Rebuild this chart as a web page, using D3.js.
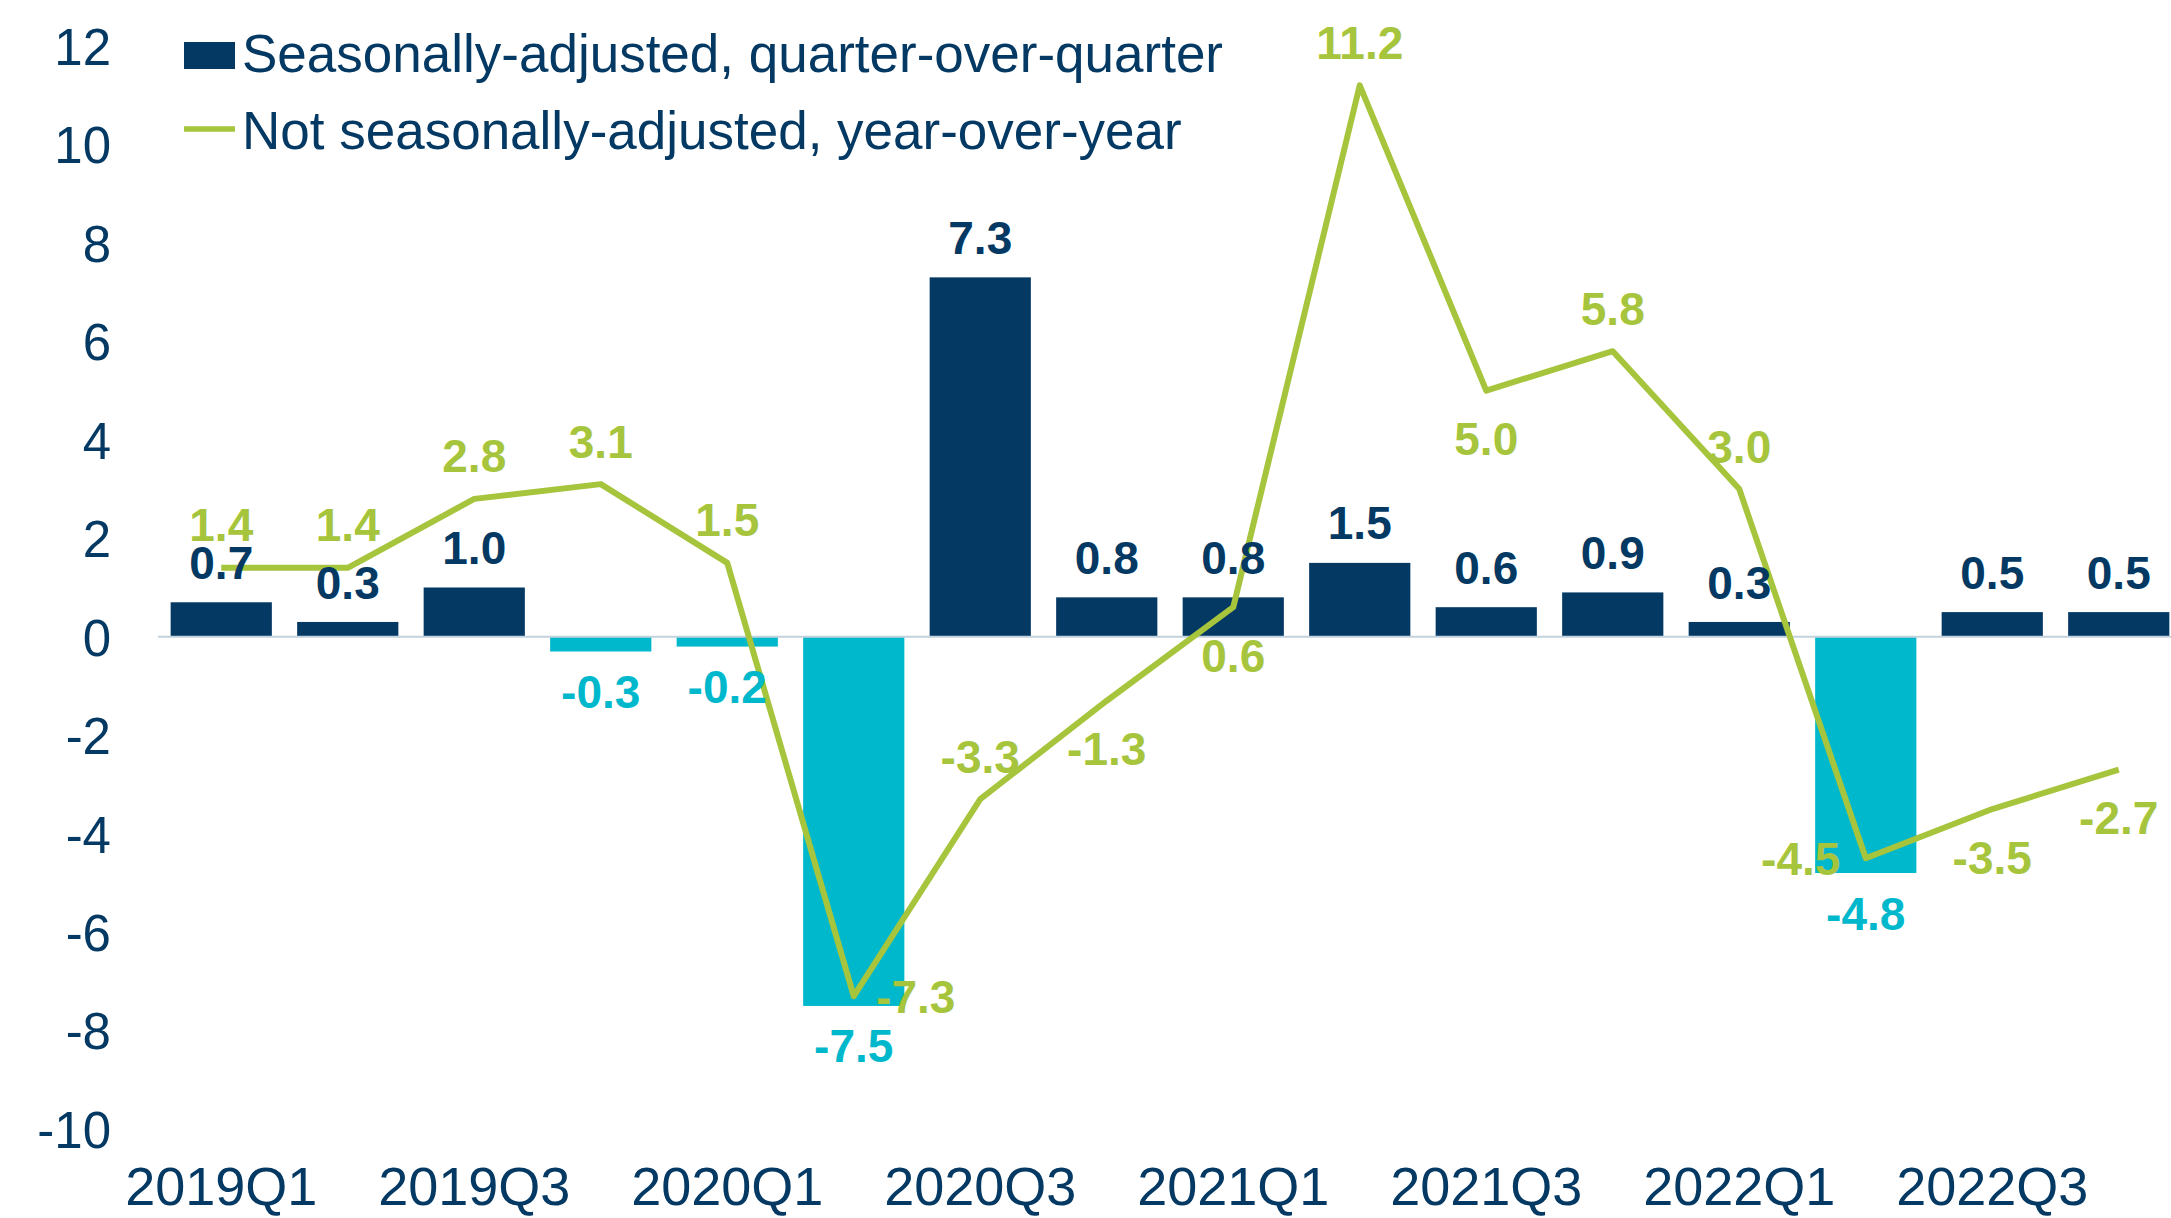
<!DOCTYPE html>
<html>
<head>
<meta charset="utf-8">
<script src="https://cdn.jsdelivr.net/npm/d3@7"></script>
<style>
  body { margin: 0; background: #ffffff; }
  text { font-family: "Liberation Sans", Arial, sans-serif; }
</style>
</head>
<body>
<div id="chart"></div>
<script>
// quarters on the x axis
const quarters = ["2019Q1", "2019Q2", "2019Q3", "2019Q4",
                  "2020Q1", "2020Q2", "2020Q3", "2020Q4",
                  "2021Q1", "2021Q2", "2021Q3", "2021Q4",
                  "2022Q1", "2022Q2", "2022Q3", "2022Q4"];
// seasonally-adjusted, quarter-over-quarter (bars)
const saQoq = [0.7, 0.3, 1.0, -0.3, -0.2, -7.5, 7.3, 0.8, 0.8, 1.5, 0.6, 0.9, 0.3, -4.8, 0.5, 0.5];
// not seasonally-adjusted, year-over-year (line)
const nsaYoy = [1.4, 1.4, 2.8, 3.1, 1.5, -7.3, -3.3, -1.3, 0.6, 11.2, 5.0, 5.8, 3.0, -4.5, -3.5, -2.7];
// where each line label sits relative to its point
const lineLabelPlace = ["above", "above", "above", "above", "above", "right", "above", "below",
                        "below", "above", "below", "above", "above", "left", "below", "below"];
const yTicks = [-10, -8, -6, -4, -2, 0, 2, 4, 6, 8, 10, 12];
const xTickLabels = ["2019Q1", "2019Q3", "2020Q1", "2020Q3", "2021Q1", "2021Q3", "2022Q1", "2022Q3"];
const seriesNames = ["Seasonally-adjusted, quarter-over-quarter", "Not seasonally-adjusted, year-over-year"];

const W = 2171, H = 1218;
const navy = "#043963", cyan = "#00B8CC", green = "#A6C43C";

// plain hyphen for negatives, like the original
const loc = d3.formatLocale({ decimal: ".", thousands: ",", grouping: [3], currency: ["", ""], minus: "-" });
const fmt1 = loc.format(".1f");
const fmt0 = loc.format("d");

const svg = d3.select("#chart").append("svg")
    .attr("width", W)
    .attr("height", H);

svg.append("rect").attr("width", W).attr("height", H).attr("fill", "#fff");

const x = d3.scaleBand()
    .domain(quarters)
    .range([158, 2182])
    .paddingInner(0.2)
    .paddingOuter(0.1);

const y = d3.scaleLinear()
    .domain([-10, 12])
    .range([1129, 46]);

// y axis labels
const yAxis = svg.append("g")
    .attr("transform", "translate(111,0)")
    .call(d3.axisLeft(y).tickValues(yTicks).tickSize(0).tickPadding(0).tickFormat(fmt0));
yAxis.select(".domain").remove();
yAxis.selectAll("text")
    .attr("fill", navy)
    .style("font-size", "51px")
    .attr("dy", "0.36em");

// x axis labels
const xAxis = svg.append("g")
    .attr("transform", "translate(0,1167)")
    .call(d3.axisBottom(x).tickValues(xTickLabels).tickSize(0).tickPadding(0));
xAxis.select(".domain").remove();
xAxis.selectAll("text")
    .attr("fill", navy)
    .style("font-size", "54px")
    .attr("dy", "0.71em");

// bars
svg.selectAll(".bar")
    .data(saQoq)
    .enter()
    .append("rect")
    .attr("class", "bar")
    .attr("x", (d, i) => x(quarters[i]))
    .attr("y", d => y(Math.max(0, d)))
    .attr("width", x.bandwidth())
    .attr("height", d => Math.abs(y(d) - y(0)))
    .attr("fill", d => d < 0 ? cyan : navy);

// zero line
svg.append("line")
    .attr("x1", 158).attr("x2", W)
    .attr("y1", y(0)).attr("y2", y(0))
    .attr("stroke", "#c3d3de")
    .attr("stroke-width", 2);

// line series
const line = d3.line()
    .x((d, i) => x(quarters[i]) + x.bandwidth() / 2)
    .y(d => y(d));

svg.append("path")
    .datum(nsaYoy)
    .attr("d", line)
    .attr("fill", "none")
    .attr("stroke", green)
    .attr("stroke-width", 6)
    .attr("stroke-linejoin", "round");

// bar labels
svg.selectAll(".barlabel")
    .data(saQoq)
    .enter()
    .append("text")
    .attr("class", "barlabel")
    .attr("x", (d, i) => x(quarters[i]) + x.bandwidth() / 2)
    .attr("y", d => d < 0 ? y(d) + 40 : y(d) - 40)
    .attr("dy", "0.36em")
    .attr("text-anchor", "middle")
    .attr("fill", d => d < 0 ? cyan : navy)
    .style("font-size", "46px")
    .style("font-weight", "bold")
    .text(d => fmt1(d));

// line labels
const off = { above: [0, -43], below: [0, 48], right: [62, 0], left: [-65, 0] };
svg.selectAll(".linelabel")
    .data(nsaYoy)
    .enter()
    .append("text")
    .attr("class", "linelabel")
    .attr("x", (d, i) => x(quarters[i]) + x.bandwidth() / 2 + off[lineLabelPlace[i]][0])
    .attr("y", (d, i) => y(d) + off[lineLabelPlace[i]][1])
    .attr("dy", "0.36em")
    .attr("text-anchor", "middle")
    .attr("fill", green)
    .style("font-size", "46px")
    .style("font-weight", "bold")
    .text(d => fmt1(d));

// legend
const legend = svg.append("g");
legend.append("rect")
    .attr("x", 184).attr("y", 42)
    .attr("width", 51).attr("height", 27)
    .attr("fill", navy);
legend.append("line")
    .attr("x1", 184).attr("x2", 235)
    .attr("y1", 129).attr("y2", 129)
    .attr("stroke", green)
    .attr("stroke-width", 5.5);
legend.selectAll(".legtext")
    .data(seriesNames)
    .enter()
    .append("text")
    .attr("class", "legtext")
    .attr("x", 242)
    .attr("y", (d, i) => 53 + i * 77)
    .attr("dy", "0.36em")
    .attr("fill", navy)
    .style("font-size", "53px")
    .text(d => d);
</script>
</body>
</html>
